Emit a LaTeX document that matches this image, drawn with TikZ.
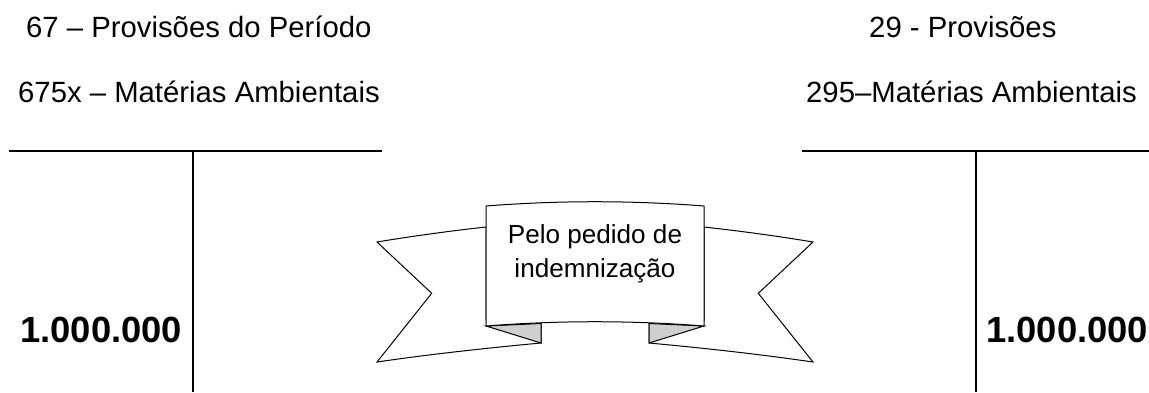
\documentclass[tikz,border=0pt]{standalone}
\usepackage{fontspec}
\setmainfont{Liberation Sans}
\begin{document}
\begin{tikzpicture}[x=1pt,y=-1pt,
  title/.style={anchor=base west,inner sep=0pt,font=\fontsize{29.3}{35}\selectfont},
  amount/.style={anchor=base west,inner sep=0pt,font=\fontsize{36.4}{44}\selectfont\bfseries},
  bannertext/.style={anchor=base,inner sep=0pt,font=\fontsize{26.1}{33}\selectfont},
  tline/.style={line width=2pt},
  ribbon/.style={line width=1pt,line join=miter,fill=white},
  fold/.style={line width=1pt,fill=black!19}]
\useasboundingbox (0,0) rectangle (1149,392);
% titles
\node[title] (l1) at (26,37) {67 – Provisões do Período};
\node[title] (l2) at (18,102) {675x – Matérias Ambientais};
\node[title] (r1) at (869,37) {29 - Provisões};
\node[title] (r2) at (806,102) {295–Matérias Ambientais};
% T accounts
\draw[tline] (9,151) -- (382,151);
\draw[tline] (193,151) -- (193,392);
\draw[tline] (802,151) -- (1149,151);
\draw[tline] (976,151) -- (976,392);
\node[amount] (la) at (20,342) {1.000.000};
\node[amount] (ra) at (986,342) {1.000.000};
% ribbon wings
\draw[ribbon] (486,227) .. controls (450,231) and (413,236) .. (377,242)
  -- (431.7,293.3) -- (377,362)
  .. controls (432,354) and (487,348) .. (541,343) -- (541,320) -- (486,320) -- cycle;
\draw[ribbon] (704,227) .. controls (740,231) and (777,236) .. (813,242)
  -- (758.3,293.3) -- (813,362)
  .. controls (758,354) and (703,348) .. (649,343) -- (649,320) -- (704,320) -- cycle;
% folds
\draw[fold] (486,326) -- (541,323.5) -- (541,343) -- cycle;
\draw[fold] (704,326) -- (649,323.5) -- (649,343) -- cycle;
% central panel
\draw[ribbon] (486,206) .. controls (559,200.3) and (631,200.3) .. (704,206)
  -- (704,326) .. controls (631,320.3) and (559,320.3) .. (486,326) -- cycle;
\node[bannertext] (b1) at (595,243) {Pelo pedido de};
\node[bannertext] (b2) at (595,277) {indemnização};
\end{tikzpicture}
\end{document}
